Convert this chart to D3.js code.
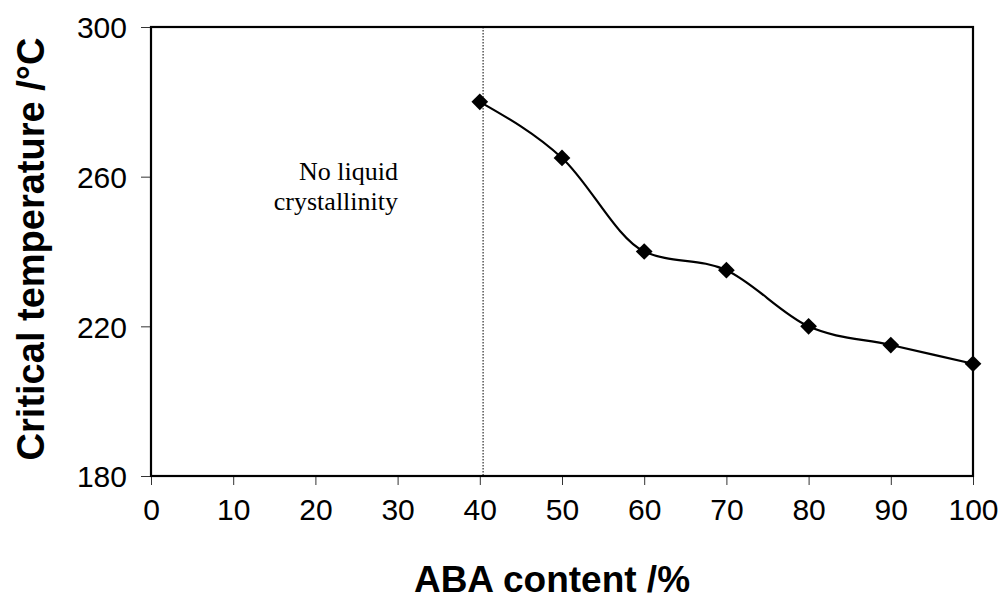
<!DOCTYPE html>
<html>
<head>
<meta charset="utf-8">
<script src="https://cdn.jsdelivr.net/npm/d3@7"></script>
<style>
  html, body { margin: 0; padding: 0; background: #fff; }
  svg { display: block; }
</style>
</head>
<body>
<svg id="chart" width="1004" height="600"></svg>
<script>
// ABA content (%) and the critical temperature (°C) measured at each composition
const abaContent = [40, 50, 60, 70, 80, 90, 100];
const criticalTemp = [280, 265, 240, 235, 220, 215, 210];
const xTicks = [0, 10, 20, 30, 40, 50, 60, 70, 80, 90, 100];
const yTicks = [180, 220, 260, 300];
// Boundary below which no liquid crystallinity is observed
const boundary = [40.4];

const svg = d3.select("#chart");
const margin = { left: 151, top: 27, right: 31, bottom: 124 };
const W = 1004, H = 600;

const x = d3.scaleLinear().domain([0, 100]).range([margin.left, W - margin.right]);
const y = d3.scaleLinear().domain([180, 300]).range([H - margin.bottom, margin.top]);

const sansFont = "'Liberation Sans', Arial, sans-serif";

// Axes with outward tick marks
const xAxis = svg.append("g")
  .attr("transform", `translate(0,${y(180)})`)
  .call(d3.axisBottom(x).tickValues(xTicks).tickSize(9).tickPadding(14).tickSizeOuter(0));
const yAxis = svg.append("g")
  .attr("transform", `translate(${x(0)},0)`)
  .call(d3.axisLeft(y).tickValues(yTicks).tickSize(10).tickPadding(14).tickSizeOuter(0));

[xAxis, yAxis].forEach(g => {
  g.select(".domain").remove();
  g.selectAll(".tick line").attr("stroke", "#333").attr("stroke-width", 1);
  g.selectAll(".tick text")
    .attr("fill", "#000")
    .style("font-family", sansFont)
    .style("font-size", "30px");
});
yAxis.selectAll(".tick text").attr("dy", "0.36em");

// Plot frame
svg.append("rect")
  .attr("x", x(0)).attr("y", y(300))
  .attr("width", x(100) - x(0)).attr("height", y(180) - y(300))
  .attr("fill", "none").attr("stroke", "#000").attr("stroke-width", 2.2);

// Dotted boundary line
svg.selectAll(".boundary").data(boundary).enter().append("line")
  .attr("class", "boundary")
  .attr("x1", d => x(d)).attr("x2", d => x(d))
  .attr("y1", y(300)).attr("y2", y(180))
  .attr("stroke", "#000").attr("stroke-width", 1)
  .attr("stroke-dasharray", "1.5,1.5");

// Smoothed data line
const pts = abaContent.map((a, i) => [a, criticalTemp[i]]);
const line = d3.line()
  .x(d => x(d[0])).y(d => y(d[1]))
  .curve(d3.curveMonotoneX);
svg.append("path")
  .datum(pts)
  .attr("d", line)
  .attr("fill", "none")
  .attr("stroke", "#000")
  .attr("stroke-width", 2.2);

// Diamond markers
svg.selectAll(".marker").data(pts).enter().append("path")
  .attr("class", "marker")
  .attr("transform", d => `translate(${x(d[0])},${y(d[1])}) rotate(45)`)
  .attr("d", d3.symbol().type(d3.symbolSquare).size(140))
  .attr("fill", "#000");

// Annotation
const note = svg.append("text")
  .attr("text-anchor", "end")
  .style("font-family", "'Liberation Serif', 'Times New Roman', serif")
  .style("font-size", "26px")
  .attr("fill", "#000");
note.append("tspan").attr("x", 398).attr("y", 180).text("No liquid");
note.append("tspan").attr("x", 398).attr("y", 210).text("crystallinity");

// Axis titles
svg.append("text")
  .attr("x", 552).attr("y", 592)
  .attr("text-anchor", "middle")
  .style("font-family", sansFont)
  .style("font-size", "37px")
  .style("font-weight", "bold")
  .text("ABA content /%");

svg.append("text")
  .attr("transform", "translate(44,249) rotate(-90)")
  .attr("text-anchor", "middle")
  .style("font-family", sansFont)
  .style("font-size", "38px")
  .style("font-weight", "bold")
  .text("Critical temperature /°C");
</script>
</body>
</html>
